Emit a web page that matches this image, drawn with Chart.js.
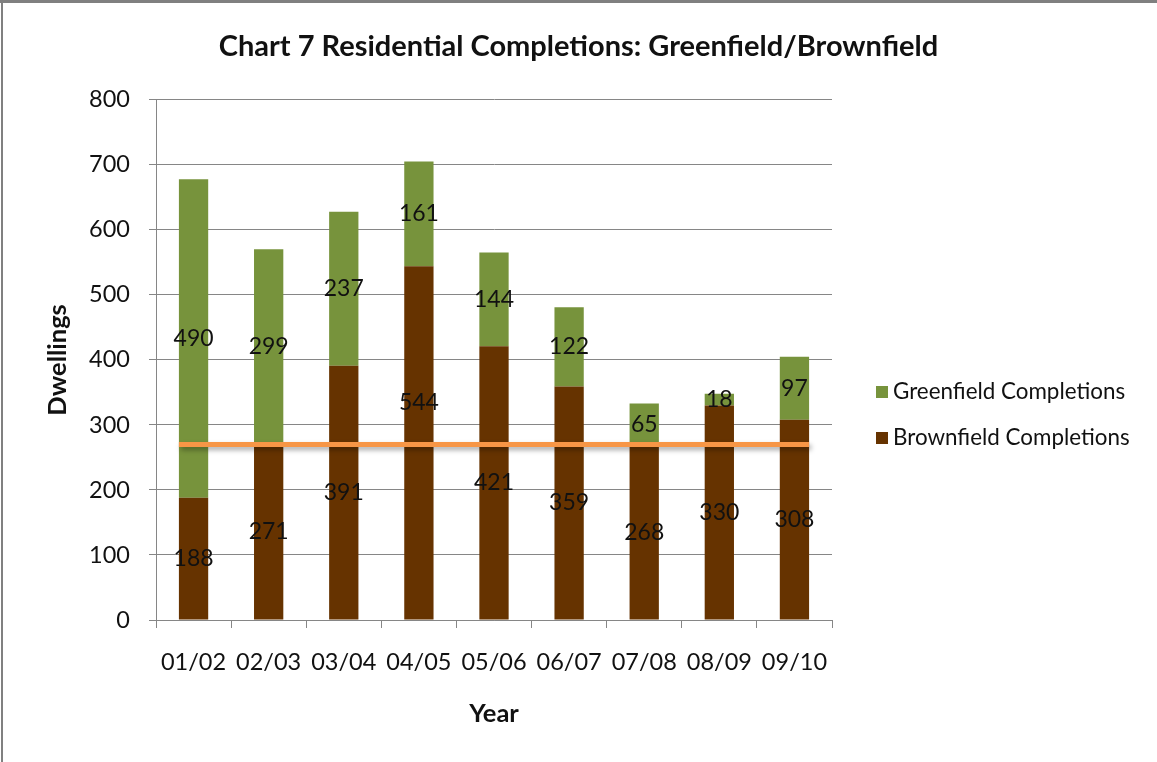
<!DOCTYPE html>
<html>
<head>
<meta charset="utf-8">
<script src="https://cdn.jsdelivr.net/npm/chart.js@4"></script>
<style>
  html, body { margin: 0; padding: 0; background: #fff; }
  #wrap { width: 1157px; height: 762px; position: relative; }
</style>
</head>
<body>
<div id="wrap"><canvas id="myChart" width="1157" height="762"></canvas></div>
<script>
// data
const years = ['01/02', '02/03', '03/04', '04/05', '05/06', '06/07', '07/08', '08/09', '09/10']
const brownfield = [188, 271, 391, 544, 421, 359, 268, 330, 308]
const greenfield = [490, 299, 237, 161, 144, 122, 65, 18, 97]
const yTicks = [0, 100, 200, 300, 400, 500, 600, 700, 800]
const targetLine = 270

const FONT = 'Lato, "Open Sans", sans-serif'
const GREY = '#868686'

// grey frame on top and left edge, white background
const framePlugin = {
    id: 'frame',
    beforeDraw(chart) {
        const ctx = chart.ctx
        ctx.save()
        ctx.fillStyle = '#fff'
        ctx.fillRect(0, 0, chart.width, chart.height)
        ctx.fillStyle = '#808080'
        ctx.fillRect(0, 0, chart.width, 3)
        ctx.fillRect(1, 0, 2, chart.height)
        ctx.restore()
    }
}

// orange line across the bars, then the value labels
const overlayPlugin = {
    id: 'overlay',
    afterDatasetsDraw(chart) {
        const ctx = chart.ctx
        const yScale = chart.scales.y
        const bars = chart.getDatasetMeta(0).data
        const first = bars[0], last = bars[bars.length - 1]
        const lineY = yScale.getPixelForValue(targetLine)

        ctx.save()
        ctx.shadowColor = 'rgba(0,0,0,0.35)'
        ctx.shadowBlur = 5
        ctx.shadowOffsetX = 2
        ctx.shadowOffsetY = 3
        ctx.strokeStyle = '#F79646'
        ctx.lineWidth = 5
        ctx.beginPath()
        ctx.moveTo(first.x - first.width / 2, lineY)
        ctx.lineTo(last.x + last.width / 2, lineY)
        ctx.stroke()
        ctx.restore()

        ctx.save()
        ctx.font = '23px ' + FONT
        ctx.fillStyle = '#111'
        ctx.textAlign = 'center'
        ctx.textBaseline = 'middle'
        chart.data.datasets.forEach((ds, di) => {
            const meta = chart.getDatasetMeta(di)
            meta.data.forEach((bar, i) => {
                let y = (bar.y + bar.base) / 2
                // label sitting on the orange line was moved up in the original
                if (Math.abs(y - lineY) < 12) y -= 40
                ctx.fillText(ds.data[i], bar.x, y)
            })
        })
        ctx.restore()
    }
}

// legend on the right, green first
const legendPlugin = {
    id: 'sideLegend',
    afterDraw(chart) {
        const ctx = chart.ctx
        const items = [chart.data.datasets[1], chart.data.datasets[0]]
        ctx.save()
        ctx.font = '22.4px ' + FONT
        ctx.textBaseline = 'middle'
        items.forEach((ds, i) => {
            const y = 392 + i * 46
            ctx.fillStyle = ds.backgroundColor
            ctx.fillRect(876, y - 6, 12, 12)
            ctx.fillStyle = '#111'
            ctx.fillText(ds.label, 893, y)
        })
        ctx.restore()
    }
}

const data = {
    labels: years,
    datasets: [
        {
            label: 'Brownfield Completions',
            data: brownfield,
            backgroundColor: '#663300',
            barPercentage: 0.39,
            categoryPercentage: 1
        },
        {
            label: 'Greenfield Completions',
            data: greenfield,
            backgroundColor: '#77933C',
            barPercentage: 0.39,
            categoryPercentage: 1
        }
    ]
}

const config = {
    type: 'bar',
    data: data,
    options: {
        responsive: false,
        animation: false,
        layout: { padding: 0 },
        plugins: {
            legend: { display: false },
            tooltip: { enabled: false },
            title: {
                display: true,
                text: 'Chart 7 Residential Completions: Greenfield/Brownfield',
                color: '#111',
                font: { family: FONT, size: 29, weight: 'bold' },
                padding: { top: 29, bottom: 36 }
            }
        },
        scales: {
            x: {
                stacked: true,
                afterFit: (s) => { s.height = 142 },
                grid: { display: true, drawOnChartArea: false, offset: true, color: GREY, tickLength: 8 },
                border: { color: GREY },
                ticks: { color: '#111', font: { family: FONT, size: 23.5 }, padding: 20, maxRotation: 0 },
                title: {
                    display: true, text: 'Year', color: '#111',
                    font: { family: FONT, size: 25.5, weight: 'bold' },
                    padding: { top: 0, bottom: 33 }
                }
            },
            y: {
                stacked: true,
                min: 0,
                max: 800,
                afterFit: (s) => { s.width = 156 },
                afterBuildTicks: (s) => { s.ticks = yTicks.map(v => ({ value: v })) },
                grid: { color: GREY, tickLength: 7 },
                border: { color: GREY },
                ticks: { color: '#111', font: { family: FONT, size: 23.5 }, padding: 19 },
                title: {
                    display: true, text: 'Dwellings', color: '#111',
                    font: { family: FONT, size: 25.5, weight: 'bold' },
                    padding: { top: 42, bottom: 0 }
                }
            },
            // empty box that keeps the right side free for the legend
            side: {
                position: 'right',
                display: true,
                afterFit: (s) => { s.width = 325 },
                grid: { display: false },
                border: { display: false },
                ticks: { display: false }
            }
        }
    },
    plugins: [framePlugin, overlayPlugin, legendPlugin]
}

const myChart = new Chart(document.getElementById('myChart'), config)
</script>
</body>
</html>
